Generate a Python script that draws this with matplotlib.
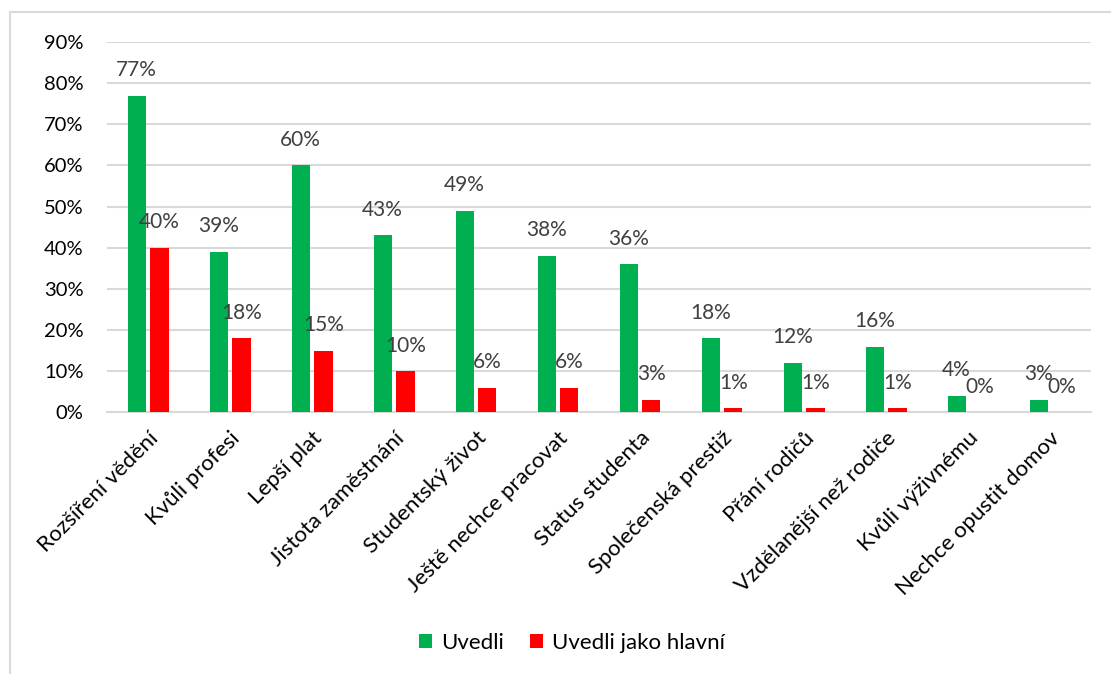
import matplotlib
matplotlib.use("Agg")
import matplotlib.pyplot as plt
import numpy as np

categories = ["Rozšíření vědění", "Kvůli profesi", "Lepší plat", "Jistota zaměstnání",
              "Studentský život", "Ještě nechce pracovat", "Status studenta",
              "Společenská prestiž", "Přání rodičů", "Vzdělanější než rodiče",
              "Kvůli výživnému", "Nechce opustit domov"]
uvedli = [77, 39, 60, 43, 49, 38, 36, 18, 12, 16, 4, 3]
hlavni = [40, 18, 15, 10, 6, 6, 3, 1, 1, 1, 0, 0]
series_names = ["Uvedli", "Uvedli jako hlavní"]
yticks = [0, 10, 20, 30, 40, 50, 60, 70, 80, 90]

plt.rcParams['font.family'] = ['Lato', 'DejaVu Sans']

W, H = 1111, 674
fig = plt.figure(figsize=(W / 100, H / 100), dpi=100)
ax = fig.add_axes([107 / W, 1 - 412.5 / H, (1091 - 107) / W, (412.5 - 42) / H])

green = "#00B050"
red = "#FF0000"
x = np.arange(len(categories))
bw = 0.22
off = 0.14
b1 = ax.bar(x - off, uvedli, bw, color=green, label=series_names[0], zorder=3)
b2 = ax.bar(x + off, hlavni, bw, color=red, label=series_names[1], zorder=3)

for bars, vals in ((b1, uvedli), (b2, hlavni)):
    for r, v in zip(bars, vals):
        ax.annotate(f"{v}%", (r.get_x() + r.get_width() / 2, v),
                    xytext=(0, 18.5), textcoords="offset points",
                    ha="center", va="center", fontsize=15, color="#404040", zorder=4)

ax.set_xlim(-0.5, len(categories) - 0.5)
ax.set_ylim(0, 90)
ax.set_yticks(yticks)
ax.set_yticklabels([f"{t}%" for t in yticks], fontsize=14.5, color="#000000")
ax.set_xticks(x)
ax.set_xticklabels(categories, rotation=45, ha="right", rotation_mode="anchor",
                   fontsize=16, color="#000000")
ax.tick_params(axis="both", length=0)
ax.tick_params(axis="x", pad=11)
ax.tick_params(axis="y", pad=17)
ax.yaxis.grid(True, color="#D9D9D9", linewidth=1.5, zorder=0)
for s in ["top", "right", "left"]:
    ax.spines[s].set_visible(False)
ax.spines["bottom"].set_color("#D9D9D9")
ax.spines["bottom"].set_linewidth(1.5)
ax.spines["bottom"].set_zorder(2)

leg = fig.legend(handles=[b1, b2], labels=series_names, loc="center",
                 bbox_to_anchor=(572 / W, 1 - 643 / H), ncol=2, frameon=False,
                 fontsize=16, handlelength=0.6, handleheight=0.6,
                 columnspacing=1.15, handletextpad=0.4)

# outer chart border (only top and left visible in reference)
fig.add_artist(plt.Line2D([10 / W, 1], [1 - 12 / H, 1 - 12 / H], color="#D9D9D9",
                          linewidth=1.5, transform=fig.transFigure))
fig.add_artist(plt.Line2D([10 / W, 10 / W], [0, 1 - 12 / H], color="#D9D9D9",
                          linewidth=1.5, transform=fig.transFigure))

fig.savefig("out.png", dpi=100)
